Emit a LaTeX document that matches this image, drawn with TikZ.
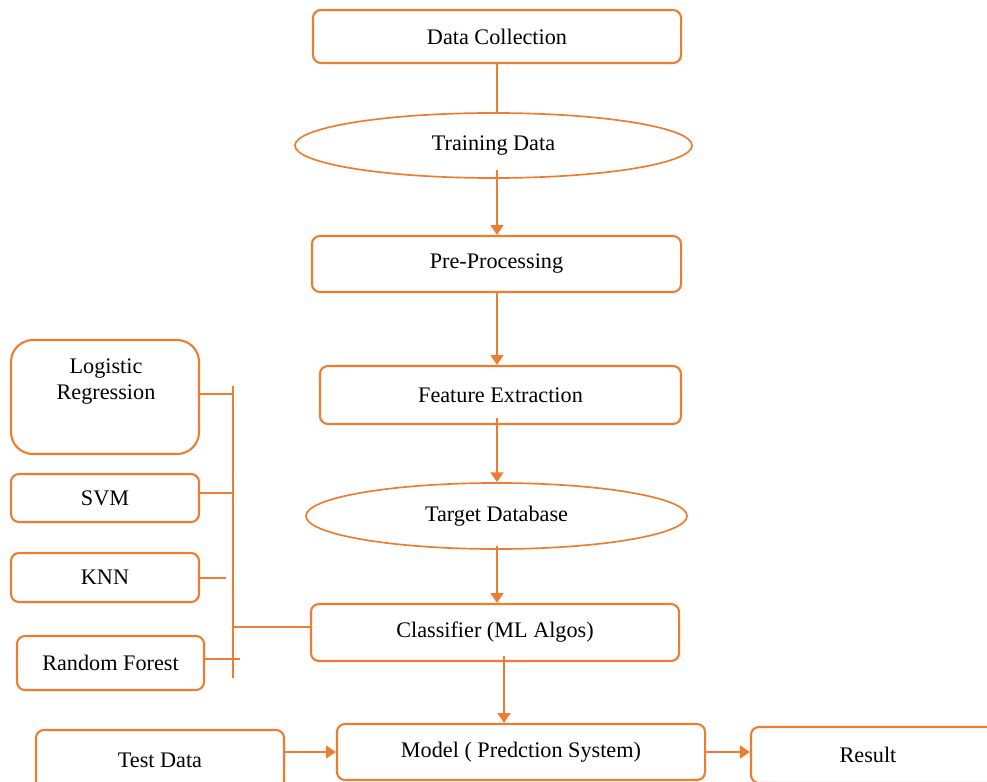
\documentclass[tikz,border=0pt]{standalone}
\usepackage{fontspec}
\setmainfont{Liberation Serif}
\usetikzlibrary{shapes.geometric,arrows.meta}
\definecolor{org}{HTML}{ED7D31}
\begin{document}
\begin{tikzpicture}[x=0.025cm,y=-0.025cm,
  every node/.style={font=\fontsize{15.8}{18.5}\selectfont},
  box/.style={draw=org,line width=1.5pt,rounded corners=0.2cm,inner sep=0pt},
  bigbox/.style={box,rounded corners=0.55cm},
  oval/.style={draw=org,line width=1.2pt,ellipse,inner sep=0pt},
  link/.style={draw=org,line width=1.8pt},
  arr/.style={link,-{Triangle[width=9pt,length=7pt]}},
  txt/.style={inner sep=0pt,align=center}]
\useasboundingbox (0,0) rectangle (987,782);
\begin{scope}
\clip (0,0) rectangle (987,782);
% main column
\node[box,minimum width=9.2cm,minimum height=1.325cm] (dc) at (497,36.5) {Data Collection};
\node[oval,minimum width=9.925cm,minimum height=1.625cm] (td) at (493.5,145.5) {Training Data};
\node[box,minimum width=9.225cm,minimum height=1.4cm] (pp) at (496.5,264) {Pre-Processing};
\node[box,minimum width=9.025cm,minimum height=1.45cm] (fe) at (500.5,395) {Feature Extraction};
\node[oval,minimum width=9.525cm,minimum height=1.65cm] (tdb) at (496.5,516) {Target Database};
\node[box,minimum width=9.2cm,minimum height=1.425cm] (cl) at (495,632.5) {Classifier (ML Algos)};
\node[box,minimum width=9.2cm,minimum height=1.4cm] (model) at (521,752) {Model ( Predction System)};
\node[box,minimum width=6.2cm,minimum height=1.5cm] (test) at (160,760) {Test Data};
\node[box,minimum width=6.8cm,minimum height=1.4cm] (res) at (887,755) {};
\node[txt] (restext) at (868,755) {Result};
% algorithms
\node[bigbox,minimum width=4.7cm,minimum height=2.85cm] (lr) at (105,397) {};
\node[txt] (lrtext) at (106,382) {Logistic\\Regression};
\node[box,minimum width=4.7cm,minimum height=1.2cm] (svm) at (105,498) {SVM};
\node[box,minimum width=4.7cm,minimum height=1.225cm] (knn) at (105,577.5) {KNN};
\node[box,minimum width=4.675cm,minimum height=1.35cm] (rf) at (110.5,663) {Random Forest};
\coordinate (bustop) at (233,386);
\coordinate (busbot) at (233,678);
% connectors
\draw[link] (dc.south) -- (dc.south |- td.north);
\draw[arr] ([yshift=6pt]td.south -| dc) -- (pp.north -| dc);
\draw[arr] (pp.south -| dc) -- (fe.north -| dc);
\draw[arr] ([yshift=5pt]fe.south -| dc) -- (tdb.north -| dc);
\draw[arr] ([yshift=3pt]tdb.south -| dc) -- (cl.north -| dc);
\draw[arr] ([xshift=5,yshift=4pt]cl.south -| dc) -- ([xshift=5]model.north -| dc);
\draw[arr] (test.east |- model.west) -- (model.west);
\draw[arr] (model.east) -- (res.west |- model.east);
\draw[link] (bustop) -- (busbot);
\draw[link] (lr.east |- 0,394) -- (bustop |- 0,394);
\draw[link] (svm.east |- 0,493) -- (bustop |- 0,493);
\draw[link,shorten >=5] (knn.east |- 0,578) -- (bustop |- 0,578);
\draw[link,shorten >=-5] (rf.east |- 0,659) -- (bustop |- 0,659);
\draw[link] (cl.west |- 0,627) -- (bustop |- 0,627);
\end{scope}
\end{tikzpicture}
\end{document}
